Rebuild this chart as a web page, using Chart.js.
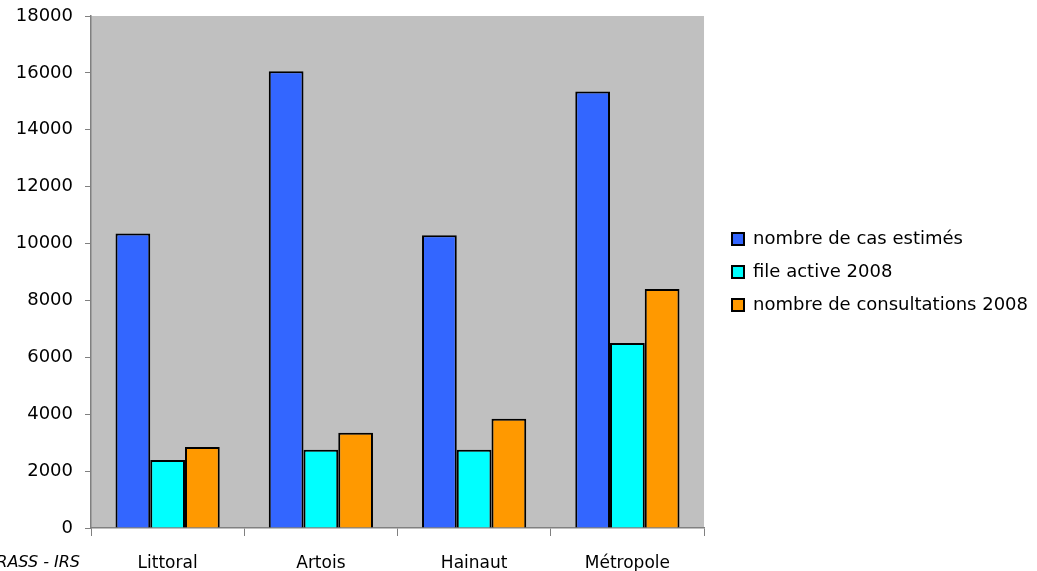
<!DOCTYPE html>
<html lang="fr">
<head>
    <meta charset="UTF-8">
    <title>Cas estimés, file active et consultations 2008</title>
    <script src="https://cdn.jsdelivr.net/npm/chart.js"></script>
    <style>
        html, body { margin: 0; padding: 0; background: #ffffff; }
        #wrap { width: 1037px; height: 571px; position: relative; }
    </style>
</head>
<body>
    <div id="wrap"><canvas id="chart"></canvas></div>
    <script>
        // Données
        var territoires = ['Littoral', 'Artois', 'Hainaut', 'Métropole'];
        var casEstimes = [10350, 16060, 10290, 15350];
        var fileActive = [2390, 2750, 2750, 6500];
        var consultations = [2850, 3350, 3840, 8400];
        var yTicks = [0, 2000, 4000, 6000, 8000, 10000, 12000, 14000, 16000, 18000];

        // fond gris de la zone de tracé, légende recentrée, mention source
        var fondZone = {
            id: 'fondZone',
            afterLayout: function (chart) {
                var lg = chart.legend, a = chart.chartArea;
                var dy = (a.top + a.bottom) / 2 - (lg.top + lg.bottom) / 2;
                lg.top += dy; lg.bottom += dy;
                lg.left += 13; lg.right += 13;
            },
            beforeDraw: function (chart) {
                var a = chart.chartArea, ctx = chart.ctx;
                ctx.save();
                ctx.fillStyle = '#c0c0c0';
                ctx.fillRect(a.left, a.top, a.right - a.left, a.bottom - a.top);
                ctx.restore();
            },
            afterDraw: function (chart) {
                var ctx = chart.ctx;
                ctx.save();
                ctx.font = 'italic 16px "DejaVu Sans"';
                ctx.fillStyle = '#000';
                ctx.textAlign = 'right';
                ctx.textBaseline = 'middle';
                ctx.fillText('DRASS - IRS', 80, 563);
                ctx.restore();
            }
        };

        var ctx = document.getElementById('chart').getContext('2d');
        var chart = new Chart(ctx, {
            type: 'bar',
            data: {
                labels: territoires,
                datasets: [{
                    label: 'nombre de cas estimés',
                    data: casEstimes,
                    backgroundColor: '#3366ff',
                    borderColor: '#000000',
                    borderWidth: 2
                }, {
                    label: 'file active 2008',
                    data: fileActive,
                    backgroundColor: '#00ffff',
                    borderColor: '#000000',
                    borderWidth: 2
                }, {
                    label: 'nombre de consultations 2008',
                    data: consultations,
                    backgroundColor: '#ff9900',
                    borderColor: '#000000',
                    borderWidth: 2
                }]
            },
            options: {
                responsive: true,
                maintainAspectRatio: false,
                animation: false,
                layout: { padding: { top: 16, right: 12, left: 0, bottom: 0 } },
                categoryPercentage: 0.68,
                barPercentage: 1.0,
                plugins: {
                    legend: {
                        position: 'right',
                        maxWidth: 360,
                        labels: {
                            boxWidth: 12,
                            boxHeight: 12,
                            padding: 15,
                            color: '#000',
                            font: { family: 'DejaVu Sans', size: 18 }
                        }
                    },
                    tooltip: { enabled: false }
                },
                scales: {
                    x: {
                        grid: { display: true, offset: true, drawOnChartArea: false, drawTicks: true, tickLength: 8, color: '#808080' },
                        border: { display: true, color: '#808080', width: 1.5 },
                        ticks: { color: '#000', padding: 17, font: { family: 'DejaVu Sans', size: 17 } },
                        afterFit: function (s) { s.height = 43; }
                    },
                    y: {
                        min: 0,
                        max: 18000,
                        afterBuildTicks: function (s) { s.ticks = yTicks.map(function (v) { return { value: v }; }); },
                        grid: { display: true, drawOnChartArea: false, drawTicks: true, tickLength: 6, color: '#808080' },
                        border: { display: true, color: '#808080', width: 1.5 },
                        ticks: {
                            color: '#000', padding: 12, font: { family: 'DejaVu Sans', size: 18 },
                            callback: function (v) { return String(v); }
                        },
                        afterFit: function (s) { s.width = 91; s.paddingTop = 0; }
                    }
                }
            },
            plugins: [fondZone]
        });
    </script>
</body>
</html>
